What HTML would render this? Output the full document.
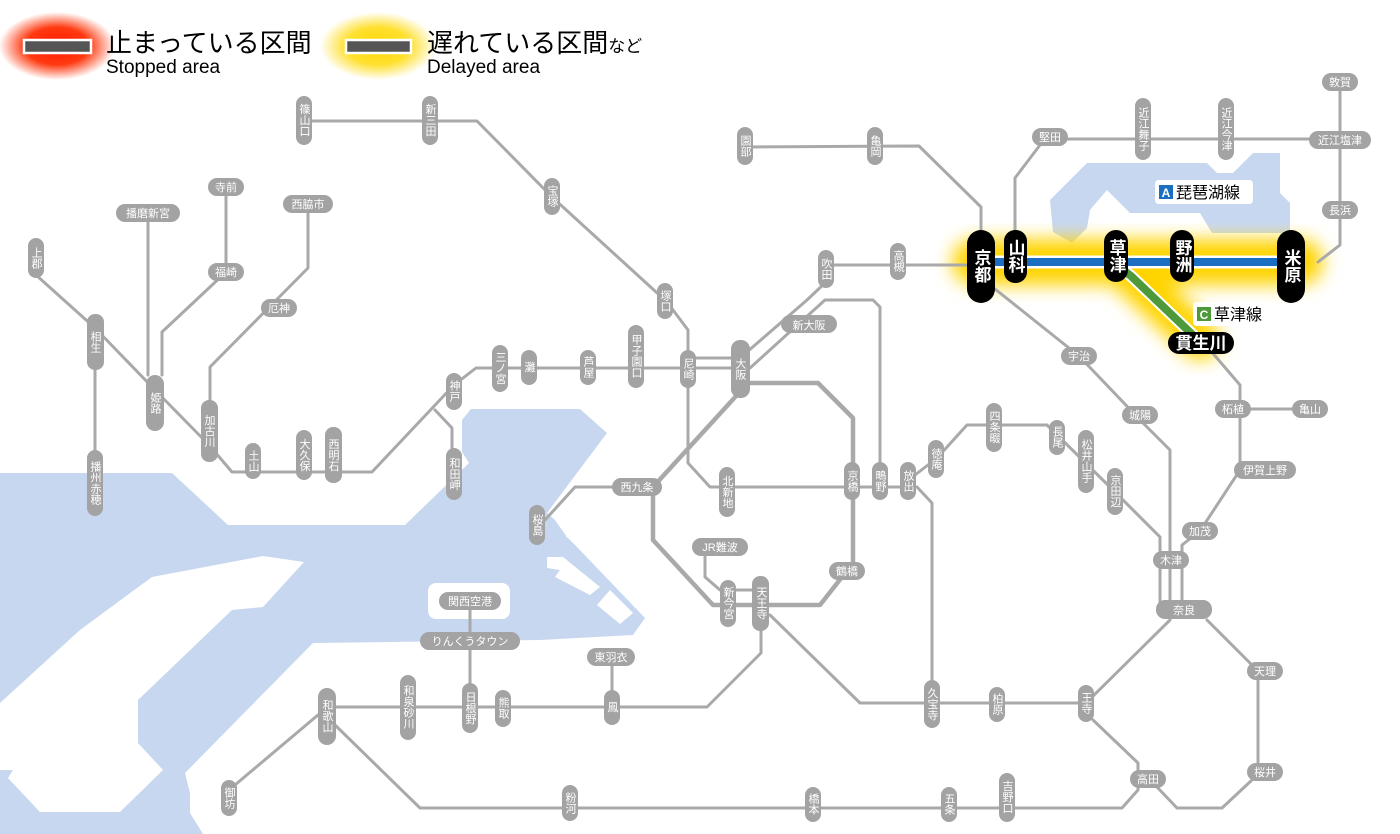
<!DOCTYPE html>
<html><head><meta charset="utf-8"><style>
html,body{margin:0;padding:0;background:#fff;}
svg{display:block;}
.l{fill:none;stroke:#a9a9a9;stroke-width:3;stroke-linejoin:round;stroke-linecap:round;}
.lw{fill:none;stroke:#a9a9a9;stroke-width:4.5;stroke-linejoin:round;}
.p{fill:#a3a3a3;}
.t{fill:#fff;font-family:"Liberation Sans","Noto Sans CJK JP",sans-serif;font-size:11px;}
.v{writing-mode:vertical-rl;}
.b{fill:#000;}
.bt{fill:#fff;font-family:"Liberation Sans","Noto Sans CJK JP",sans-serif;font-size:17px;font-weight:bold;}
.k{font-family:"Liberation Sans","Noto Sans CJK JP",sans-serif;fill:#000;}
</style></head><body>
<svg width="1400" height="834" viewBox="0 0 1400 834" xmlns="http://www.w3.org/2000/svg">
<defs>
<radialGradient id="rg"><stop offset="0" stop-color="#ff1800"/><stop offset="0.55" stop-color="#ff3a10"/><stop offset="1" stop-color="#ff3a10" stop-opacity="0"/></radialGradient>
<radialGradient id="yg"><stop offset="0" stop-color="#ffd800"/><stop offset="0.55" stop-color="#ffe030"/><stop offset="1" stop-color="#ffe030" stop-opacity="0"/></radialGradient>
<filter id="bl" x="-20%" y="-50%" width="140%" height="200%"><feGaussianBlur stdDeviation="9"/></filter>
</defs>

<!-- sea -->
<g fill="#c8d7f0">
<polygon points="0,473 172,473 228,525 405,525 469,463 462,452 462,420 471,409 580,409 607,433 547,513 555,520 567,537 577,547 645,618 633,635 540,640 313,643 185,773 190,793 190,813 203,834 0,834"/>
<polygon points="1050,200 1087,163 1207,163 1217,173 1233,173 1253,153 1280,153 1280,193 1290,203 1290,233 1212,233 1200,213 1130,213 1107,190 1090,210 1087,228 1072,243 1053,232"/>
</g>
<g fill="#fff">
<polygon points="0,703 80,630 152,577 205,567 263,556 304,562 263,607 232,610 138,700 138,743 163,770 120,812 40,812 8,778 13,770 0,770"/>
<rect x="428" y="583" width="82" height="36" rx="8"/>
<polygon points="547,557 563,557 600,587 590,595 555,577 560,570 547,568"/>
<polygon points="597,605 610,590 633,613 620,624"/>
<polygon points="593,500 598,502 575,540 566,537"/>
</g>

<!-- legend -->
<ellipse cx="57" cy="46" rx="58" ry="34" fill="url(#rg)"/>
<rect x="24" y="40" width="67" height="13" fill="#555" stroke="#fff" stroke-width="2.5"/>
<text class="k" x="106" y="52" font-size="26">止まっている区間</text>
<text class="k" x="106" y="73" font-size="19">Stopped area</text>
<ellipse cx="378" cy="46" rx="58" ry="34" fill="url(#yg)"/>
<rect x="346" y="40" width="65" height="13" fill="#555" stroke="#fff" stroke-width="2.5"/>
<text class="k" x="427" y="52" font-size="26">遅れている区間<tspan font-size="17">など</tspan></text>
<text class="k" x="427" y="73" font-size="19">Delayed area</text>

<!-- yellow glow -->
<g filter="url(#bl)" stroke="#ffd400" fill="none" stroke-linecap="round">
<path d="M975,262 L1300,262" stroke-width="46"/>
<path d="M1125,270 L1200,340" stroke-width="40"/>
</g>

<!-- grey lines -->
<g class="l">
<path d="M36,275 L95,328 L155,390 L209,445 L232,472 L372,472 L454,385 L476,368 L740,368"/>
<path d="M688,358 L740,358"/>
<path d="M95,370 L95,450"/>
<path d="M148,213 L148,375"/>
<path d="M226,187 L226,272 L162,332 L162,375"/>
<path d="M308,204 L308,268 L210,367 L210,400"/>
<path d="M435,410 L452,428 L452,448"/>
<path d="M304,121 L477,121 L552,197 L667,302 L688,330 L688,463 L710,487 L908,487"/>
<path d="M745,147 L919,146 L981,207 L981,232"/>
<path d="M740,358 L807,300 L826,282 L826,265 L981,265"/>
<path d="M750,368 L825,300 L873,300 L880,307 L880,462"/>
<path d="M620,487 L575,487 L545,520"/>
<path d="M705,553 L705,577 L720,590 L760,590"/>
<path d="M770,615 L860,703 L1086,703 L1170,620"/>
<path d="M761,630 L761,653 L707,707 L327,707"/>
<path d="M612,658 L612,707"/>
<path d="M470,601 L470,700"/>
<path d="M318,715 L229,790"/>
<path d="M335,725 L420,808 L1122,808 L1138,790 L1138,763 L1093,720"/>
<path d="M1157,787 L1177,808 L1222,808 L1252,780 L1258,772 L1258,671 L1207,620"/>
<path d="M915,475 L937,458 L967,425 L1047,425 L1115,492 L1160,537 L1160,612"/>
<path d="M917,487 L932,503 L932,680"/>
<path d="M990,285 L1079,356 L1143,423 L1170,450 L1170,612"/>
<path d="M1182,612 L1182,545 L1200,531 L1240,470 L1240,385 L1210,350"/>
<path d="M1233,409 L1310,409"/>
<path d="M1015,232 L1015,178 L1040,145 L1040,139 L1340,139"/>
<path d="M1340,82 L1340,245 L1318,262"/>
</g>
<g class="lw">
<path d="M740,383 L818,383 L853,418 L853,563 L820,605 L713,605 L653,540 L653,487 L737,395"/>
</g>

<!-- Biwako & Kusatsu lines -->
<path d="M975,262 L1300,262" stroke="#fff" stroke-width="13" fill="none"/>
<path d="M975,262 L1300,262" stroke="#1b6fc2" stroke-width="8" fill="none"/>
<path d="M1118,266 L1131,276 L1196,338" stroke="#fff" stroke-width="12" fill="none"/>
<path d="M1118,266 L1131,276 L1196,338" stroke="#4e9a3a" stroke-width="8" fill="none"/>

<!-- vertical gray pills -->
<g>
<rect class="p" x="28" y="238" width="16" height="40" rx="8"/><text class="t v" x="36" y="258" text-anchor="middle">上郡</text>
<rect class="p" x="87" y="314" width="17" height="56" rx="8"/><text class="t v" x="95" y="342" text-anchor="middle" font-size="14">相生</text>
<rect class="p" x="87" y="450" width="16" height="66" rx="8"/><text class="t v" x="95" y="483" text-anchor="middle">播州赤穂</text>
<rect class="p" x="146" y="375" width="18" height="56" rx="9"/><text class="t v" x="155" y="403" text-anchor="middle" font-size="14">姫路</text>
<rect class="p" x="201" y="400" width="17" height="62" rx="8"/><text class="t v" x="209" y="431" text-anchor="middle" font-size="13">加古川</text>
<rect class="p" x="245" y="443" width="16" height="36" rx="8"/><text class="t v" x="253" y="461" text-anchor="middle">土山</text>
<rect class="p" x="296" y="430" width="16" height="50" rx="8"/><text class="t v" x="304" y="455" text-anchor="middle">大久保</text>
<rect class="p" x="325" y="427" width="17" height="56" rx="8"/><text class="t v" x="333" y="455" text-anchor="middle" font-size="13">西明石</text>
<rect class="p" x="446" y="373" width="16" height="37" rx="8"/><text class="t v" x="454" y="391" text-anchor="middle">神戸</text>
<rect class="p" x="446" y="448" width="16" height="52" rx="8"/><text class="t v" x="454" y="474" text-anchor="middle">和田岬</text>
<rect class="p" x="492" y="345" width="16" height="47" rx="8"/><text class="t v" x="500" y="368" text-anchor="middle">三ノ宮</text>
<rect class="p" x="521" y="350" width="16" height="35" rx="8"/><text class="t v" x="529" y="367" text-anchor="middle">灘</text>
<rect class="p" x="580" y="350" width="16" height="35" rx="8"/><text class="t v" x="588" y="367" text-anchor="middle">芦屋</text>
<rect class="p" x="628" y="325" width="16" height="63" rx="8"/><text class="t v" x="636" y="356" text-anchor="middle">甲子園口</text>
<rect class="p" x="680" y="350" width="16" height="38" rx="8"/><text class="t v" x="688" y="369" text-anchor="middle">尼崎</text>
<rect class="p" x="731" y="340" width="19" height="58" rx="9"/><text class="t v" x="740" y="369" text-anchor="middle" font-size="15">大阪</text>
<rect class="p" x="657" y="283" width="16" height="36" rx="8"/><text class="t v" x="665" y="301" text-anchor="middle">塚口</text>
<rect class="p" x="544" y="178" width="16" height="37" rx="8"/><text class="t v" x="552" y="196" text-anchor="middle">宝塚</text>
<rect class="p" x="422" y="96" width="16" height="49" rx="8"/><text class="t v" x="430" y="120" text-anchor="middle">新三田</text>
<rect class="p" x="296" y="96" width="16" height="49" rx="8"/><text class="t v" x="304" y="120" text-anchor="middle">篠山口</text>
<rect class="p" x="737" y="127" width="16" height="38" rx="8"/><text class="t v" x="745" y="146" text-anchor="middle">園部</text>
<rect class="p" x="867" y="127" width="16" height="38" rx="8"/><text class="t v" x="875" y="146" text-anchor="middle">亀岡</text>
<rect class="p" x="818" y="250" width="16" height="38" rx="8"/><text class="t v" x="826" y="269" text-anchor="middle">吹田</text>
<rect class="p" x="890" y="243" width="16" height="37" rx="8"/><text class="t v" x="898" y="261" text-anchor="middle">高槻</text>
<rect class="p" x="719" y="467" width="16" height="50" rx="8"/><text class="t v" x="727" y="492" text-anchor="middle">北新地</text>
<rect class="p" x="844" y="462" width="16" height="38" rx="8"/><text class="t v" x="852" y="481" text-anchor="middle">京橋</text>
<rect class="p" x="872" y="462" width="16" height="38" rx="8"/><text class="t v" x="880" y="481" text-anchor="middle">鴫野</text>
<rect class="p" x="900" y="462" width="16" height="38" rx="8"/><text class="t v" x="908" y="481" text-anchor="middle">放出</text>
<rect class="p" x="928" y="440" width="16" height="38" rx="8"/><text class="t v" x="936" y="459" text-anchor="middle">徳庵</text>
<rect class="p" x="986" y="403" width="16" height="49" rx="8"/><text class="t v" x="994" y="427" text-anchor="middle">四条畷</text>
<rect class="p" x="1049" y="420" width="16" height="35" rx="8"/><text class="t v" x="1057" y="437" text-anchor="middle">長尾</text>
<rect class="p" x="1078" y="430" width="16" height="63" rx="8"/><text class="t v" x="1086" y="461" text-anchor="middle">松井山手</text>
<rect class="p" x="1107" y="468" width="16" height="47" rx="8"/><text class="t v" x="1115" y="491" text-anchor="middle">京田辺</text>
<rect class="p" x="720" y="580" width="16" height="47" rx="8"/><text class="t v" x="728" y="603" text-anchor="middle">新今宮</text>
<rect class="p" x="752" y="576" width="17" height="55" rx="8"/><text class="t v" x="761" y="603" text-anchor="middle" font-size="13">天王寺</text>
<rect class="p" x="924" y="680" width="16" height="48" rx="8"/><text class="t v" x="932" y="704" text-anchor="middle">久宝寺</text>
<rect class="p" x="989" y="687" width="16" height="35" rx="8"/><text class="t v" x="997" y="704" text-anchor="middle">柏原</text>
<rect class="p" x="1078" y="685" width="16" height="37" rx="8"/><text class="t v" x="1086" y="703" text-anchor="middle">王寺</text>
<rect class="p" x="400" y="675" width="16" height="65" rx="8"/><text class="t v" x="408" y="707" text-anchor="middle">和泉砂川</text>
<rect class="p" x="462" y="683" width="16" height="50" rx="8"/><text class="t v" x="470" y="708" text-anchor="middle">日根野</text>
<rect class="p" x="495" y="690" width="16" height="37" rx="8"/><text class="t v" x="503" y="708" text-anchor="middle">熊取</text>
<rect class="p" x="604" y="690" width="16" height="35" rx="8"/><text class="t v" x="612" y="707" text-anchor="middle">鳳</text>
<rect class="p" x="318" y="688" width="18" height="57" rx="9"/><text class="t v" x="327" y="716" text-anchor="middle" font-size="14">和歌山</text>
<rect class="p" x="221" y="780" width="16" height="36" rx="8"/><text class="t v" x="229" y="798" text-anchor="middle">御坊</text>
<rect class="p" x="562" y="785" width="16" height="36" rx="8"/><text class="t v" x="570" y="803" text-anchor="middle">粉河</text>
<rect class="p" x="805" y="787" width="16" height="35" rx="8"/><text class="t v" x="813" y="804" text-anchor="middle">橋本</text>
<rect class="p" x="941" y="787" width="16" height="35" rx="8"/><text class="t v" x="949" y="804" text-anchor="middle">五条</text>
<rect class="p" x="999" y="773" width="16" height="49" rx="8"/><text class="t v" x="1007" y="797" text-anchor="middle">吉野口</text>
<rect class="p" x="1135" y="98" width="16" height="62" rx="8"/><text class="t v" x="1143" y="129" text-anchor="middle">近江舞子</text>
<rect class="p" x="1218" y="98" width="16" height="62" rx="8"/><text class="t v" x="1226" y="129" text-anchor="middle">近江今津</text>
<rect class="p" x="529" y="505" width="16" height="40" rx="8"/><text class="t v" x="537" y="525" text-anchor="middle">桜島</text>
</g>

<!-- horizontal gray pills -->
<g>
<rect class="p" x="116" y="204" width="64" height="18" rx="9"/><text class="t" x="148" y="217" text-anchor="middle">播磨新宮</text>
<rect class="p" x="208" y="178" width="36" height="18" rx="9"/><text class="t" x="226" y="191" text-anchor="middle">寺前</text>
<rect class="p" x="283" y="195" width="50" height="18" rx="9"/><text class="t" x="308" y="208" text-anchor="middle">西脇市</text>
<rect class="p" x="208" y="263" width="36" height="18" rx="9"/><text class="t" x="226" y="276" text-anchor="middle">福崎</text>
<rect class="p" x="261" y="299" width="36" height="18" rx="9"/><text class="t" x="279" y="312" text-anchor="middle">厄神</text>
<rect class="p" x="612" y="478" width="50" height="18" rx="9"/><text class="t" x="637" y="491" text-anchor="middle">西九条</text>
<rect class="p" x="781" y="315" width="56" height="18" rx="9"/><text class="t" x="809" y="329" text-anchor="middle" font-size="13">新大阪</text>
<rect class="p" x="692" y="538" width="56" height="18" rx="9"/><text class="t" x="720" y="551" text-anchor="middle">JR難波</text>
<rect class="p" x="829" y="562" width="36" height="18" rx="9"/><text class="t" x="847" y="575" text-anchor="middle">鶴橋</text>
<rect class="p" x="439" y="592" width="62" height="18" rx="9"/><text class="t" x="470" y="605" text-anchor="middle">関西空港</text>
<rect class="p" x="420" y="632" width="100" height="18" rx="9"/><text class="t" x="470" y="645" text-anchor="middle">りんくうタウン</text>
<rect class="p" x="587" y="648" width="48" height="18" rx="9"/><text class="t" x="611" y="661" text-anchor="middle">東羽衣</text>
<rect class="p" x="1061" y="347" width="36" height="18" rx="9"/><text class="t" x="1079" y="360" text-anchor="middle">宇治</text>
<rect class="p" x="1122" y="406" width="36" height="18" rx="9"/><text class="t" x="1140" y="419" text-anchor="middle">城陽</text>
<rect class="p" x="1215" y="400" width="36" height="18" rx="9"/><text class="t" x="1233" y="413" text-anchor="middle">柘植</text>
<rect class="p" x="1292" y="400" width="36" height="18" rx="9"/><text class="t" x="1310" y="413" text-anchor="middle">亀山</text>
<rect class="p" x="1234" y="461" width="62" height="18" rx="9"/><text class="t" x="1265" y="474" text-anchor="middle">伊賀上野</text>
<rect class="p" x="1182" y="522" width="36" height="18" rx="9"/><text class="t" x="1200" y="535" text-anchor="middle">加茂</text>
<rect class="p" x="1153" y="551" width="36" height="18" rx="9"/><text class="t" x="1171" y="564" text-anchor="middle">木津</text>
<rect class="p" x="1156" y="600" width="56" height="19" rx="9"/><text class="t" x="1184" y="614" text-anchor="middle" font-size="14">奈良</text>
<rect class="p" x="1247" y="662" width="36" height="18" rx="9"/><text class="t" x="1265" y="675" text-anchor="middle">天理</text>
<rect class="p" x="1130" y="770" width="36" height="18" rx="9"/><text class="t" x="1148" y="783" text-anchor="middle">高田</text>
<rect class="p" x="1247" y="763" width="36" height="18" rx="9"/><text class="t" x="1265" y="776" text-anchor="middle">桜井</text>
<rect class="p" x="1032" y="128" width="36" height="18" rx="9"/><text class="t" x="1050" y="141" text-anchor="middle">堅田</text>
<rect class="p" x="1309" y="131" width="62" height="18" rx="9"/><text class="t" x="1340" y="144" text-anchor="middle">近江塩津</text>
<rect class="p" x="1322" y="73" width="36" height="18" rx="9"/><text class="t" x="1340" y="86" text-anchor="middle">敦賀</text>
<rect class="p" x="1322" y="201" width="36" height="18" rx="9"/><text class="t" x="1340" y="214" text-anchor="middle">長浜</text>
</g>

<!-- black pills -->
<g>
<rect class="b" x="967" y="230" width="28" height="73" rx="14"/><text class="bt v" x="981" y="266" text-anchor="middle" font-size="19">京都</text>
<rect class="b" x="1004" y="230" width="23" height="53" rx="11"/><text class="bt v" x="1015" y="256" text-anchor="middle">山科</text>
<rect class="b" x="1104" y="230" width="24" height="52" rx="12"/><text class="bt v" x="1116" y="256" text-anchor="middle">草津</text>
<rect class="b" x="1170" y="230" width="24" height="52" rx="12"/><text class="bt v" x="1182" y="256" text-anchor="middle">野洲</text>
<rect class="b" x="1277" y="230" width="28" height="73" rx="14"/><text class="bt v" x="1291" y="266" text-anchor="middle" font-size="19">米原</text>
<rect class="b" x="1168" y="332" width="66" height="22" rx="11"/><text class="bt" x="1201" y="349" text-anchor="middle" font-size="16">貫生川</text>
</g>

<!-- line labels -->
<rect x="1155" y="180" width="98" height="24" rx="4" fill="#fff"/>
<rect x="1159" y="185" width="14" height="14" fill="#1b6fc2"/>
<text x="1166" y="197" text-anchor="middle" font-family="Liberation Sans,sans-serif" font-size="12" font-weight="bold" fill="#fff">A</text>
<text class="k" x="1176" y="198" font-size="16">琵琶湖線</text>
<rect x="1193" y="302" width="80" height="24" rx="4" fill="#fff"/>
<rect x="1197" y="307" width="14" height="14" fill="#4e9a3a"/>
<text x="1204" y="319" text-anchor="middle" font-family="Liberation Sans,sans-serif" font-size="12" font-weight="bold" fill="#fff">C</text>
<text class="k" x="1214" y="320" font-size="16">草津線</text>
</svg>
</body></html>
